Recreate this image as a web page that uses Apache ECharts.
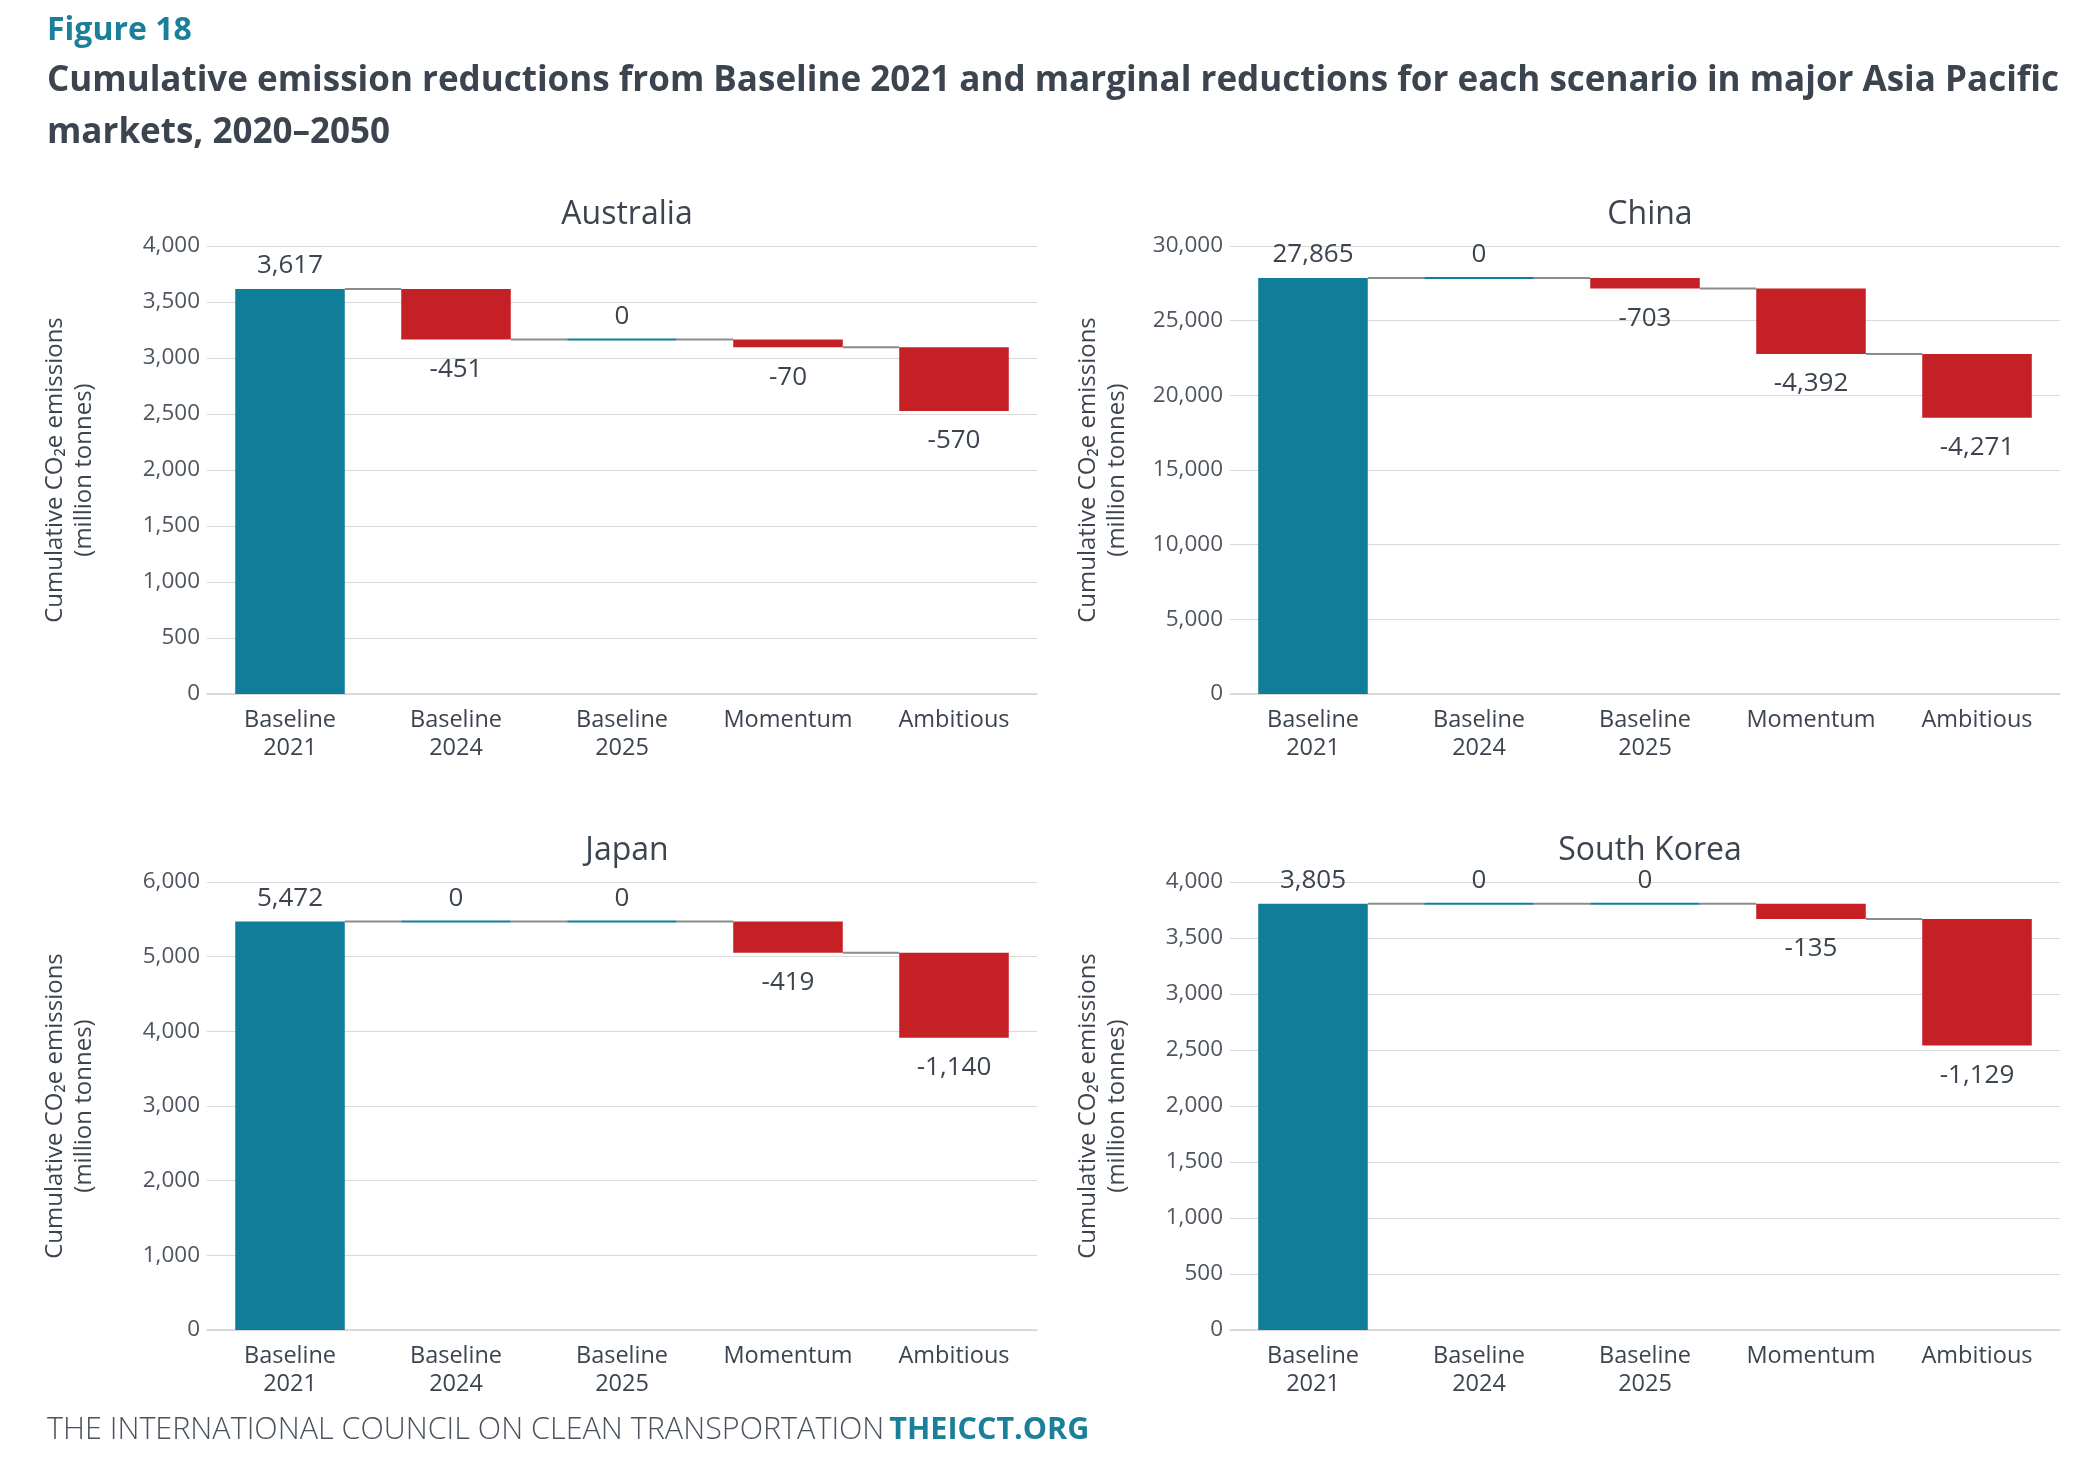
<!DOCTYPE html>
<html>
<head>
<meta charset="utf-8">
<script src="https://cdn.jsdelivr.net/npm/echarts@6/dist/echarts.min.js"></script>
<style>
  html, body { margin: 0; padding: 0; background: #fff; }
  #chart { width: 2098px; height: 1468px; }
</style>
</head>
<body>
<div id="chart"></div>
<script>
// categories shared by all four panels
const categories = ['Baseline\n2021', 'Baseline\n2024', 'Baseline\n2025', 'Momentum', 'Ambitious'];

// first value is the Baseline 2021 total, the rest are marginal changes
const australiaValues = [3617, -451, 0, -70, -570];
const chinaValues = [27865, 0, -703, -4392, -4271];
const japanValues = [5472, 0, 0, -419, -1140];
const koreaValues = [3805, 0, 0, -135, -1129];

const panelNames = ['Australia', 'China', 'Japan', 'South Korea'];
const axisMax = [4000, 30000, 6000, 4000];
const axisStep = [500, 5000, 1000, 500];

const TEAL = '#117e99';
const RED = '#c52026';
const TEXT = '#3b444f';
const FONT = 'Open Sans';

const allValues = [australiaValues, chinaValues, japanValues, koreaValues];

// grid boxes (left, top) for each panel
const gridPos = [
  { left: 207, top: 246 },
  { left: 1230, top: 246 },
  { left: 207, top: 882 },
  { left: 1230, top: 882 }
];

function waterfallRows(values) {
  let level = 0;
  return values.map((v, i) => {
    let lo, hi;
    if (i === 0) { lo = 0; hi = v; level = v; }
    else { lo = level + Math.min(v, 0); hi = level + Math.max(v, 0); level += v; }
    return [i, lo, hi, v, level];
  });
}

const fmt = v => v.toLocaleString('en-US');

function renderItem(params, api) {
  const i = api.value(0);
  const lo = api.value(1);
  const hi = api.value(2);
  const v = api.value(3);
  const end = api.value(4);
  const bw = api.size([1, 0])[0];
  const w = bw * 0.66;
  const pTop = api.coord([i, hi]);
  const pBot = api.coord([i, lo]);
  const x0 = pTop[0] - w / 2;
  const children = [];
  if (v === 0) {
    children.push({ type: 'line', shape: { x1: x0, y1: pTop[1], x2: x0 + w, y2: pTop[1] },
      style: { stroke: TEAL, lineWidth: 2 } });
  } else {
    children.push({ type: 'rect', shape: { x: x0, y: pTop[1], width: w, height: pBot[1] - pTop[1] },
      style: { fill: i === 0 ? TEAL : RED } });
  }
  // connector to the next bar
  if (i < params.dataInsideLength - 1) {
    const pe = api.coord([i, end]);
    children.push({ type: 'line', shape: { x1: x0 + w, y1: pe[1], x2: x0 + bw, y2: pe[1] },
      style: { stroke: '#8c8c8c', lineWidth: 2 } });
  }
  // value label
  const below = v < 0;
  children.push({ type: 'text', style: {
    text: fmt(v), x: pTop[0], y: below ? pBot[1] + 30 : pTop[1] - 23,
    align: 'center', verticalAlign: 'middle',
    font: '500 26px "' + FONT + '"', fill: TEXT } });
  return { type: 'group', children: children };
}

const grids = [], xAxes = [], yAxes = [], series = [];
const titles = [
  { text: 'Figure 18', left: 42, top: 10, textStyle: { color: '#1a7f99', fontSize: 32, fontWeight: 'bold', fontFamily: FONT } },
  { text: 'Cumulative emission reductions from Baseline 2021 and marginal reductions for each scenario in major Asia Pacific\nmarkets, 2020–2050',
    left: 42, top: 50, textStyle: { color: TEXT, fontSize: 35, fontWeight: 'bold', fontFamily: FONT, lineHeight: 52 } }
];

allValues.forEach((vals, k) => {
  const g = gridPos[k];
  grids.push({ left: g.left, top: g.top, width: 830, height: 448 });
  xAxes.push({
    type: 'category', gridIndex: k, data: categories,
    axisTick: { show: false },
    axisLine: { lineStyle: { color: '#d4d4d4', width: 1.5 } },
    axisLabel: { color: TEXT, fontSize: 23.5, lineHeight: 28, margin: 12, fontFamily: FONT, interval: 0 }
  });
  yAxes.push({
    type: 'value', gridIndex: k, min: 0, max: axisMax[k], interval: axisStep[k],
    name: 'Cumulative CO\u2082e emissions\n(million tonnes)',
    nameLocation: 'middle', nameGap: k % 2 === 0 ? 108 : 98, nameRotate: 90,
    nameTextStyle: { color: TEXT, fontSize: 24, lineHeight: 29, fontFamily: FONT },
    axisLine: { show: false }, axisTick: { show: false },
    splitLine: { lineStyle: { color: '#d9d9d9', width: 1.2 } },
    axisLabel: { color: '#4d5560', fontSize: 22.5, margin: 7, fontFamily: FONT, formatter: v => fmt(v) }
  });
  series.push({
    type: 'custom', xAxisIndex: k, yAxisIndex: k,
    data: waterfallRows(vals), encode: { x: 0, y: [1, 2] },
    renderItem: renderItem, silent: true
  });
  titles.push({
    text: panelNames[k], left: g.left + 415, top: g.top - 52, textAlign: 'center',
    textStyle: { color: TEXT, fontSize: 32, fontWeight: 500, fontFamily: FONT }
  });
});

titles.push({
  text: '{a|THE INTERNATIONAL COUNCIL ON CLEAN TRANSPORTATION} {b|THEICCT.ORG}',
  left: 42, top: 1410,
  textStyle: { rich: {
    a: { color: '#4a525c', fontSize: 30.5, fontWeight: 300, fontFamily: FONT },
    b: { color: '#1a7f99', fontSize: 30.5, fontWeight: 'bold', fontFamily: FONT }
  } }
});

const chart = echarts.init(document.getElementById('chart'));
chart.setOption({
  backgroundColor: '#ffffff',
  animation: false,
  title: titles,
  grid: grids,
  xAxis: xAxes,
  yAxis: yAxes,
  series: series
});
</script>
</body>
</html>
